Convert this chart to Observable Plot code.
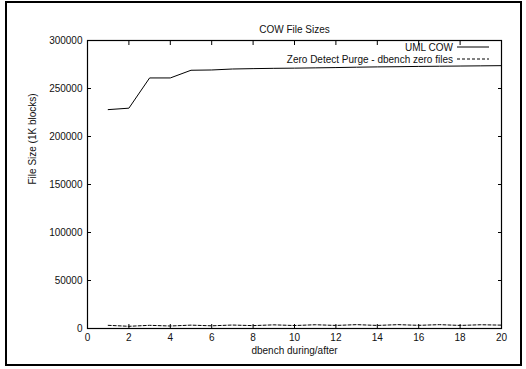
<!DOCTYPE html>
<html>
<head>
<meta charset="utf-8">
<script src="https://cdn.jsdelivr.net/npm/d3@7"></script>
<script src="https://cdn.jsdelivr.net/npm/@observablehq/plot@0.6"></script>
<style>
  body { margin: 0; background: #fff; }
  #wrap { position: relative; width: 526px; height: 369px; font-family: "Liberation Sans", Arial, sans-serif; }
  #border { position: absolute; left: 5px; top: 1px; width: 517px; height: 365px; box-sizing: border-box; border: 2px solid #000; pointer-events: none; }
  #legend { position: absolute; right: 37px; top: 41px; font-size: 10px; color: #111; }
  #legend .row { display: flex; align-items: center; justify-content: flex-end; height: 12px; }
  #legend svg { margin-left: 4px; }
</style>
</head>
<body>
<div id="wrap"><div id="border"></div><div id="legend"></div></div>
<script>
const runs = [1,2,3,4,5,6,7,8,9,10,11,12,13,14,15,16,17,18,19,20];
const umlCow = [228000,229500,261000,261000,269000,269300,270300,270700,271000,271200,271500,271800,272200,272500,272700,273000,273200,273400,273600,273800];
const zeroDetect = [3300,2300,3300,2600,3500,2800,3600,3000,3800,3100,3900,3200,4000,3200,4000,3300,4000,3200,3900,3500];
const seriesNames = ["UML COW", "Zero Detect Purge - dbench zero files"];
const seriesDash = ["none", "3,2"];
const xTicks = [0,2,4,6,8,10,12,14,16,18,20];
const yTicks = [0,50000,100000,150000,200000,250000,300000];
const title = "COW File Sizes";
const xLabel = "dbench during/after";
const yLabel = "File Size (1K blocks)";

const rows = [];
runs.forEach((r, i) => rows.push({x: r, y: umlCow[i], s: seriesNames[0]}));
runs.forEach((r, i) => rows.push({x: r, y: zeroDetect[i], s: seriesNames[1]}));

const fmt = d3.format("d");
const common = {fontSize: 10, fill: "#111"};

const chart = Plot.plot({
  width: 526, height: 369,
  marginLeft: 87, marginRight: 25, marginTop: 40, marginBottom: 41,
  style: {fontFamily: "Liberation Sans, Arial, sans-serif", fontSize: "10px", background: "transparent", color: "#111"},
  x: {domain: [0, 20]},
  y: {domain: [0, 300000]},
  marks: [
    Plot.axisX(xTicks, {anchor: "bottom", tickSize: 4, dy: -4, tickPadding: 5, tickFormat: fmt, label: null, fontSize: 10, stroke: "#000"}),
    Plot.axisX(xTicks, {anchor: "top", tickSize: 4, dy: 4, tickFormat: () => "", label: null, stroke: "#000"}),
    Plot.axisY(yTicks, {anchor: "left", tickSize: 4, dx: 4, tickPadding: 5, tickFormat: fmt, label: null, fontSize: 10, stroke: "#000"}),
    Plot.axisY(yTicks, {anchor: "right", tickSize: 4, dx: -4, tickFormat: () => "", label: null, stroke: "#000"}),
    Plot.line(rows.filter(d => d.s === seriesNames[0]), {x: "x", y: "y", stroke: "#000", strokeWidth: 1}),
    Plot.line(rows.filter(d => d.s === seriesNames[1]), {x: "x", y: "y", stroke: "#000", strokeWidth: 1, strokeDasharray: "3,2"}),
    Plot.frame({stroke: "#000", strokeWidth: 1.2}),
    Plot.text([title], {frameAnchor: "top", dy: -15, ...common}),
    Plot.text([xLabel], {frameAnchor: "bottom", dy: 25, ...common}),
    Plot.text([yLabel], {frameAnchor: "left", dx: -55, rotate: -90, ...common})
  ]
});
chart.style.position = "absolute";
chart.style.left = "0px";
chart.style.top = "0px";
document.getElementById("wrap").prepend(chart);

const legend = document.getElementById("legend");
seriesNames.forEach((name, i) => {
  const row = document.createElement("div");
  row.className = "row";
  const span = document.createElement("span");
  span.textContent = name;
  row.appendChild(span);
  const svg = d3.create("svg").attr("width", 32).attr("height", 4);
  svg.append("line").attr("x1", 0).attr("x2", 32).attr("y1", 2).attr("y2", 2)
    .attr("stroke", "#000").attr("stroke-width", 1)
    .attr("stroke-dasharray", seriesDash[i]);
  row.appendChild(svg.node());
  legend.appendChild(row);
});
</script>
</body>
</html>
